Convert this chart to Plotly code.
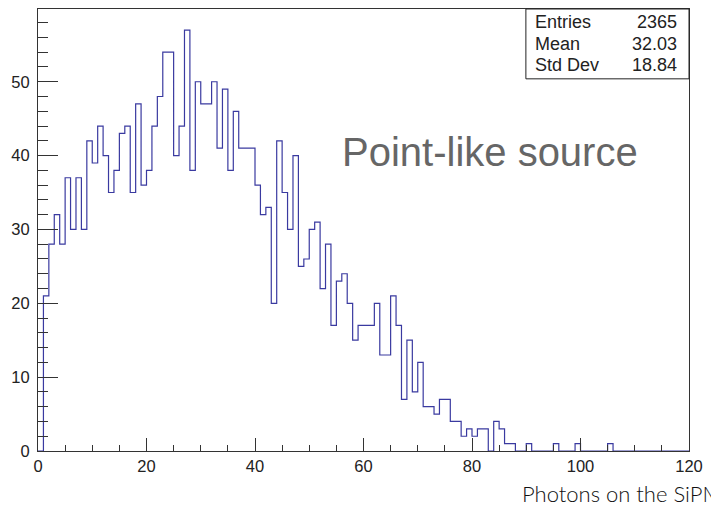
import plotly.graph_objects as go

# ---- data ----
bin_edges_low = list(range(0, 120))          # 1-unit bins from 0 to 120
counts = [0, 21, 28, 32, 28, 37, 30, 37, 30, 42,
          39, 44, 40, 35, 38, 43, 44, 35, 47, 36,
          38, 44, 48, 54, 54, 40, 44, 57, 38, 50,
          47, 47, 50, 41, 49, 38, 46, 41, 41, 41,
          36, 32, 33, 20, 42, 35, 30, 40, 25, 26,
          30, 31, 22, 28, 17, 23, 24, 20, 15, 17,
          17, 17, 20, 13, 13, 21, 17, 7, 15, 8,
          12, 6, 6, 5, 7, 7, 4, 4, 2, 3,
          2, 3, 3, 0, 4, 3, 1, 1, 0, 0,
          1, 0, 0, 0, 0, 1, 0, 0, 0, 1,
          0, 0, 0, 0, 0, 1, 0, 0, 0, 0,
          0, 0, 0, 0, 0, 0, 0, 0, 0, 0]
x_ticks = [0, 20, 40, 60, 80, 100, 120]
y_ticks = [0, 10, 20, 30, 40, 50]
stats_labels = ["Entries", "Mean", "Std Dev"]
stats_values = ["2365", "32.03", "18.84"]
annotation_text = "Point-like source"
x_title_text = "Photons on the SiPM"

# ---- layout geometry (pixels) ----
W, H = 711, 509
L, R, T, B = 37.5, 15, 8, 58
pw, ph = W - L - R, H - T - B


def px(xp):
    return (xp - L) / pw


def py(yp):
    return (H - B - yp) / ph


xs = bin_edges_low + [120]
ys = counts + [counts[-1]]

fig = go.Figure()
fig.add_trace(go.Scatter(
    x=xs, y=ys, mode="lines", line_shape="hv",
    line=dict(color="#3a3aa0", width=1.2),
    hoverinfo="skip", showlegend=False,
))

axis_common = dict(
    showline=True, linecolor="#333333", linewidth=1, mirror=True,
    showgrid=False, zeroline=False, ticks="inside",
    tickcolor="#333333", tickwidth=1,
    tickfont=dict(family="Liberation Sans, Arial, sans-serif", size=16.5, color="#222222"),
)

fig.update_layout(
    width=W, height=H,
    margin=dict(l=L, r=R, t=T, b=B, pad=0),
    paper_bgcolor="white", plot_bgcolor="white",
    xaxis=dict(range=[0, 120], tickvals=x_ticks, ticklen=13,
               minor=dict(dtick=5, ticklen=6.5, ticks="inside", tickcolor="#333333", tickwidth=1),
               ticklabelstandoff=0, **axis_common),
    yaxis=dict(range=[0, 59.85], tickvals=y_ticks, ticklen=19.5,
               minor=dict(dtick=2, ticklen=9.8, ticks="inside", tickcolor="#333333", tickwidth=1),
               ticklabelstandoff=4, **axis_common),
    showlegend=False,
)

# stats box
fig.add_shape(type="rect", xref="paper", yref="paper",
              x0=px(531), x1=1.0, y0=py(78), y1=1.0,
              line=dict(color="#222222", width=1), fillcolor="white", layer="above")
row_y = [21.5, 43, 64.5]
for lab, val, yy in zip(stats_labels, stats_values, row_y):
    fig.add_annotation(xref="paper", yref="paper", x=px(538), y=py(yy),
                       text=lab, showarrow=False, xanchor="left", yanchor="middle",
                       font=dict(family="Liberation Sans, Arial, sans-serif", size=18, color="#222222"))
    fig.add_annotation(xref="paper", yref="paper", x=px(686), y=py(yy),
                       text=val, showarrow=False, xanchor="right", yanchor="middle",
                       font=dict(family="Liberation Sans, Arial, sans-serif", size=18, color="#222222"))

fig.add_annotation(xref="paper", yref="paper", x=px(343), y=py(151),
                   text=annotation_text, showarrow=False, xanchor="left", yanchor="middle",
                   font=dict(family="Liberation Sans, Arial, sans-serif", size=40, color="#666666"))

fig.add_annotation(xref="paper", yref="paper", x=px(525), y=py(494),
                   text=x_title_text, showarrow=False, xanchor="left", yanchor="middle",
                   font=dict(family="Lato, sans-serif", size=22, color="#111111", weight=300))

fig.write_html("out.html", config={"displayModeBar": False})
